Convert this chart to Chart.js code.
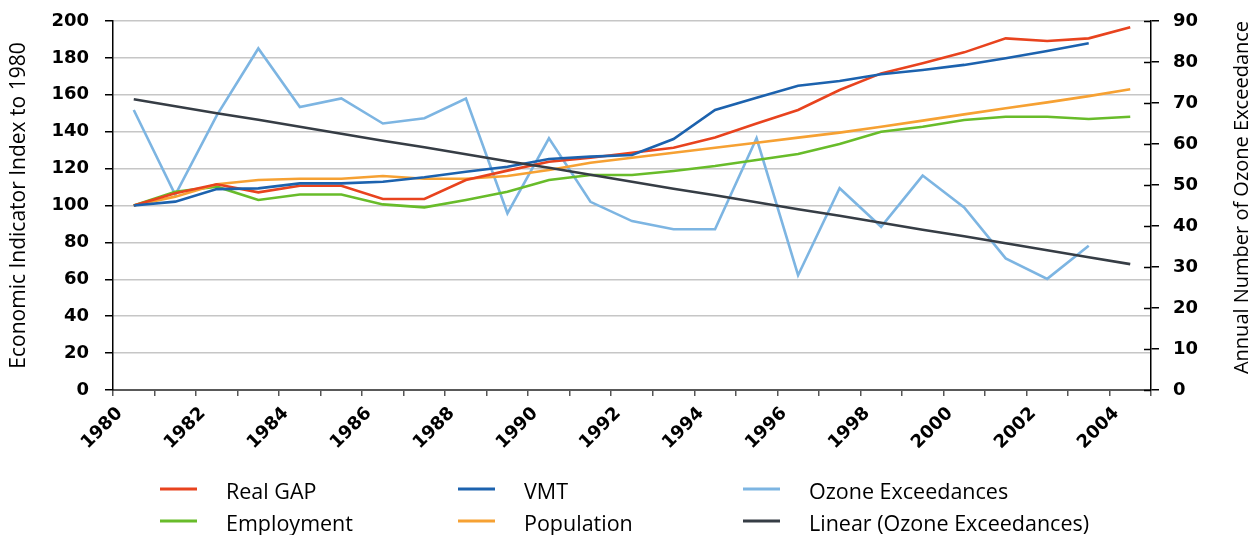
<!DOCTYPE html>
<html><head><meta charset="utf-8">
<script src="https://cdn.jsdelivr.net/npm/chart.js@4.4.1/dist/chart.umd.min.js"></script>
<style>html,body{margin:0;padding:0;background:#fff;}canvas{display:block}</style>
</head><body>
<canvas id="c" width="1256" height="535"></canvas>
<script>
const years = ['1980','1981','1982','1983','1984','1985','1986','1987','1988','1989','1990','1991','1992','1993','1994','1995','1996','1997','1998','1999','2000','2001','2002','2003','2004'];
const realGAP = [100,106.6,111.5,107.1,110.7,110.7,103.5,103.5,113.8,118.9,123.7,125.9,128.6,131.3,136.8,144.5,151.8,162.6,171.6,177.1,183,190.6,189.2,190.6,196.6];
const vmt = [100,102.1,108.9,109.3,112,112,112.9,115.3,118.3,121,125.2,126.5,127.4,136,151.8,158.4,164.9,167.5,171.1,173.4,176.2,179.8,183.7,187.9,null];
const employment = [100,107.5,110.2,103,106,106,100.6,99,103,107.5,113.8,116.5,116.5,118.7,121.4,124.7,127.9,133.3,140,142.7,146.3,148.1,148.1,146.9,148.1];
const population = [100,104.8,111.5,113.8,114.5,114.5,116,114.5,114.5,116,119.2,123.2,125.9,128.6,131.3,134,136.8,139.5,142.7,146,149.4,152.7,155.9,159.3,163];
const ozone = [68.3,47.6,67,83.3,69,71.1,65,66.3,71.1,43.1,61.4,45.9,41.2,39.2,39.2,61.4,28,49.2,39.8,52.3,44.5,32.1,27.1,35.2,null];
const ozoneTrend = [70.9,69.2,67.5,65.9,64.2,62.5,60.8,59.2,57.5,55.8,54.2,52.5,50.8,49.1,47.5,45.8,44.1,42.5,40.8,39.1,37.5,35.8,34.1,32.4,30.7];
const leftTicks = {min:0, max:200, step:20};
const rightTicks = {min:0, max:90, step:10};

const FONT = "'Open Sans', 'DejaVu Sans', sans-serif";
const TICKFONT = "'DejaVu Sans', sans-serif";
const C = {gap:'#E8431E', vmt:'#1C62AE', ozone:'#7DB5E2', emp:'#68BC2A', pop:'#F6A133', trend:'#363D45'};

const legendRows = [
  [['Real GAP',C.gap],['VMT',C.vmt],['Ozone Exceedances',C.ozone]],
  [['Employment',C.emp],['Population',C.pop],['Linear (Ozone Exceedances)',C.trend]]
];

const extras = {
  id:'extras',
  afterDraw(chart){
    const ctx = chart.ctx;
    const y2 = chart.scales.y2;
    ctx.save();
    ctx.strokeStyle = '#000'; ctx.lineWidth = 1.5;
    y2.ticks.forEach(t=>{
      const py = Math.round(y2.getPixelForValue(t.value))+0.5;
      ctx.beginPath(); ctx.moveTo(y2.left-7, py); ctx.lineTo(y2.left, py); ctx.stroke();
    });
    ctx.fillStyle = '#000';
    ctx.font = "20px " + FONT;
    ctx.textAlign = 'center'; ctx.textBaseline = 'middle';
    ctx.translate(1242, (chart.chartArea.top + chart.chartArea.bottom)/2 - 8);
    ctx.rotate(-Math.PI/2);
    ctx.fillText('Annual Number of Ozone Exceedance', 0, 0);
    ctx.restore();
    ctx.save();
    const colX = [160, 458, 743];
    const rowY = [493, 525];
    ctx.font = "21.5px " + FONT;
    ctx.textAlign = 'left'; ctx.textBaseline = 'middle';
    legendRows.forEach((row, r)=>{
      row.forEach((item, c)=>{
        ctx.strokeStyle = item[1]; ctx.lineWidth = 3;
        ctx.beginPath(); ctx.moveTo(colX[c], rowY[r]-4); ctx.lineTo(colX[c]+37, rowY[r]-4); ctx.stroke();
        ctx.fillStyle = '#000';
        ctx.fillText(item[0], colX[c]+66, rowY[r]);
      });
    });
    ctx.restore();
  }
};

const ds = (label, data, color, axis, order) => ({label, data, borderColor:color, backgroundColor:color, yAxisID:axis, borderWidth:2.6, pointRadius:0, tension:0, fill:false, order});

new Chart(document.getElementById('c'), {
  type:'line',
  data:{
    labels: years,
    datasets:[
      ds('Real GAP', realGAP, C.gap, 'y', 3),
      ds('VMT', vmt, C.vmt, 'y', 2),
      ds('Ozone Exceedances', ozone, C.ozone, 'y2', 6),
      ds('Employment', employment, C.emp, 'y', 5),
      ds('Population', population, C.pop, 'y', 4),
      ds('Linear (Ozone Exceedances)', ozoneTrend, C.trend, 'y2', 1)
    ]
  },
  options:{
    responsive:false,
    animation:false,
    devicePixelRatio:1,
    layout:{autoPadding:false, padding:{top:21,left:0,right:0,bottom:0}},
    plugins:{legend:{display:false}, tooltip:{enabled:false}},
    scales:{
      x:{
        offset:true,
        grid:{offset:true, drawOnChartArea:false, tickLength:6, tickColor:'#555', lineWidth:1.5},
        border:{color:'#595959', width:2},
        ticks:{autoSkip:false, maxRotation:45, minRotation:45, padding:7, labelOffset:-14, color:'#000',
          font:{family:TICKFONT, size:18, weight:'bold'},
          callback:(v,i)=> i%2===0 ? years[i] : ''},
        afterFit(s){ s.height = 145; }
      },
      y:{
        position:'left', min:leftTicks.min, max:leftTicks.max,
        ticks:{stepSize:leftTicks.step, color:'#000', padding:16, font:{family:TICKFONT, size:18, weight:'bold'}},
        grid:{color:'#C6C6C6', lineWidth:1.5, tickLength:8, tickColor:'#000'},
        border:{color:'#000', width:1.5},
        title:{display:true, text:'Economic Indicator Index to 1980', color:'#000', font:{family:FONT, size:21}, padding:{top:6,bottom:0}},
        afterFit(s){ s.width = 113; s.paddingTop = 0; s.paddingBottom = 0; }
      },
      y2:{
        position:'right', min:rightTicks.min, max:rightTicks.max,
        ticks:{stepSize:rightTicks.step, color:'#000', padding:14, font:{family:TICKFONT, size:18, weight:'bold'}},
        grid:{drawOnChartArea:false, tickLength:8, tickColor:'#000', lineWidth:1.5},
        border:{color:'#000', width:1.5},
        afterFit(s){ s.width = 105; s.paddingTop = 0; s.paddingBottom = 0; }
      }
    }
  },
  plugins:[extras]
});
</script>
</body></html>
